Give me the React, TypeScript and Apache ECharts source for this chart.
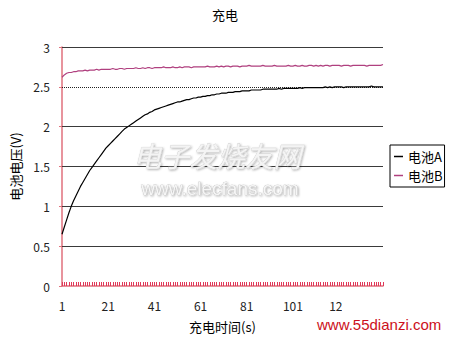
import React, { useEffect, useRef } from "react";
import * as echarts from "echarts";

const titleText = "充电";
const seriesNames = ["电池A", "电池B"];
const xAxisName = "充电时间(s)";
const yAxisName = "电池电压(V)";
const pointCount = 140;
const categories: string[] = Array.from({ length: pointCount }, (_, i) => String(i + 1));

const batteryA: number[] = [
  0.65, 0.74, 0.83, 0.92, 1.0, 1.07, 1.13, 1.19, 1.25, 1.3,
  1.35, 1.4, 1.45, 1.49, 1.53, 1.57, 1.61, 1.65, 1.69, 1.73,
  1.76, 1.79, 1.82, 1.85, 1.88, 1.91, 1.94, 1.97, 1.99, 2.01,
  2.03, 2.05, 2.07, 2.09, 2.11, 2.13, 2.15, 2.16, 2.18, 2.19,
  2.21, 2.22, 2.23, 2.24, 2.25, 2.26, 2.27, 2.28, 2.29, 2.3,
  2.31, 2.31, 2.32, 2.33, 2.34, 2.34, 2.35, 2.36, 2.36, 2.37,
  2.37, 2.38, 2.38, 2.39, 2.39, 2.4, 2.4, 2.41, 2.41, 2.42,
  2.42, 2.42, 2.43, 2.43, 2.43, 2.44, 2.44, 2.44, 2.45, 2.45,
  2.45, 2.45, 2.46, 2.46, 2.46, 2.46, 2.46, 2.47, 2.47, 2.47,
  2.47, 2.47, 2.47, 2.47, 2.48, 2.47, 2.48, 2.48, 2.48, 2.48,
  2.48, 2.48, 2.48, 2.49, 2.48, 2.49, 2.49, 2.49, 2.49, 2.49,
  2.49, 2.49, 2.49, 2.49, 2.5, 2.49, 2.5, 2.49, 2.5, 2.5,
  2.5, 2.5, 2.49, 2.5, 2.5, 2.5, 2.5, 2.5, 2.5, 2.5,
  2.5, 2.5, 2.5, 2.5, 2.51, 2.5, 2.5, 2.5, 2.5, 2.5,
];

const batteryB: number[] = [
  2.62, 2.65, 2.67, 2.68, 2.68, 2.69, 2.69, 2.7, 2.7, 2.7,
  2.71, 2.7, 2.71, 2.71, 2.71, 2.72, 2.71, 2.72, 2.72, 2.72,
  2.72, 2.72, 2.73, 2.72, 2.72, 2.73, 2.73, 2.72, 2.73, 2.73,
  2.73, 2.73, 2.74, 2.73, 2.73, 2.74, 2.73, 2.74, 2.74, 2.73,
  2.74, 2.74, 2.74, 2.74, 2.75, 2.74, 2.74, 2.74, 2.75, 2.74,
  2.74, 2.75, 2.74, 2.75, 2.75, 2.75, 2.74, 2.75, 2.75, 2.75,
  2.75, 2.75, 2.75, 2.76, 2.75, 2.75, 2.75, 2.76, 2.75, 2.76,
  2.75, 2.76, 2.76, 2.75, 2.76, 2.76, 2.76, 2.75, 2.76, 2.76,
  2.76, 2.77, 2.76, 2.76, 2.76, 2.76, 2.76, 2.77, 2.76, 2.76,
  2.76, 2.76, 2.77, 2.76, 2.76, 2.76, 2.76, 2.76, 2.77, 2.76,
  2.76, 2.77, 2.76, 2.76, 2.77, 2.76, 2.76, 2.77, 2.77, 2.76,
  2.77, 2.76, 2.77, 2.76, 2.77, 2.77, 2.76, 2.77, 2.77, 2.77,
  2.77, 2.76, 2.77, 2.77, 2.77, 2.76, 2.77, 2.77, 2.77, 2.77,
  2.77, 2.77, 2.76, 2.77, 2.77, 2.77, 2.77, 2.77, 2.77, 2.78,
];

const solidGridValues = [0.5, 1, 1.5, 2, 3];
const dottedGridValues = [2.5];

const FONT = "SimSun, 'Noto Sans CJK SC', sans-serif";

export default function App() {
  const ref = useRef<HTMLDivElement>(null);
  useEffect(() => {
    if (!ref.current) return;
    const chart = echarts.init(ref.current, null, { renderer: "svg" });
    const markData: any[] = [
      ...solidGridValues.map((v) => ({ yAxis: v, lineStyle: { type: "solid", color: "#3a3a3a", width: 1 } })),
      ...dottedGridValues.map((v) => ({ yAxis: v, lineStyle: { type: "dotted", color: "#222", width: 1 } })),
    ];
    chart.setOption({
      animation: false,
      backgroundColor: "#ffffff",
      title: {
        text: titleText,
        left: "center",
        top: 3,
        textStyle: { fontSize: 13, fontWeight: "normal", color: "#000", fontFamily: FONT },
      },
      legend: {
        orient: "vertical",
        left: 390,
        top: 145,
        borderColor: "#000",
        borderWidth: 1,
        padding: [5, 2, 5, 4],
        itemGap: 6,
        itemWidth: 9,
        itemHeight: 1.5,
        icon: "rect",
        textStyle: { fontSize: 13, color: "#000", fontFamily: FONT },
        data: seriesNames,
      },
      grid: { left: 62, right: 67, top: 47, bottom: 52 },
      xAxis: {
        type: "category",
        data: categories,
        boundaryGap: false,
        name: xAxisName,
        nameLocation: "middle",
        nameGap: 34,
        nameTextStyle: { fontSize: 13, color: "#000", fontFamily: FONT },
        axisLine: { lineStyle: { color: "#e0707c", width: 1.5 } },
        axisTick: { show: true, inside: true, length: 4, interval: 0, lineStyle: { color: "#e03858", width: 1 } },
        axisLabel: { interval: 19, fontSize: 12, color: "#222", margin: 13, fontFamily: FONT },
        splitLine: { show: false },
      },
      yAxis: {
        type: "value",
        min: 0,
        max: 3,
        interval: 0.5,
        name: yAxisName,
        nameLocation: "middle",
        nameGap: 40,
        nameTextStyle: { fontSize: 13, color: "#000", fontFamily: FONT },
        axisLine: { show: true, lineStyle: { color: "#e0707c", width: 1.5 } },
        axisTick: { show: true, length: 3, lineStyle: { color: "#e0707c" } },
        axisLabel: { fontSize: 12, color: "#222", margin: 12, fontFamily: FONT },
        splitLine: { show: false },
      },
      series: [
        {
          name: seriesNames[0],
          type: "line",
          data: batteryA,
          symbol: "none",
          lineStyle: { color: "#000", width: 1.2 },
          itemStyle: { color: "#000" },
          z: 3,
          markLine: {
            silent: true,
            symbol: "none",
            label: { show: false },
            data: markData,
            z: 1,
          },
        },
        {
          name: seriesNames[1],
          type: "line",
          data: batteryB,
          symbol: "none",
          lineStyle: { color: "#b0407f", width: 1.2 },
          itemStyle: { color: "#b0407f" },
          z: 3,
        },
      ],
      graphic: [
        {
          type: "text",
          left: 133,
          top: 141,
          z: 10,
          style: {
            text: "电子发烧友网",
            fontSize: 28,
            fontStyle: "italic",
            fontFamily: FONT,
            fill: "#f4f4f4",
            stroke: "#cccccc",
            lineWidth: 0.6,
            textShadowColor: "rgba(0,0,0,0.3)",
            textShadowBlur: 2,
            textShadowOffsetX: 1,
            textShadowOffsetY: 1,
          },
        },
        {
          type: "text",
          left: 141,
          top: 179,
          z: 10,
          style: {
            text: "www.elecfans.com",
            fontSize: 19,
            fontFamily: "Liberation Sans, Arial, sans-serif",
            fill: "#f6f6f6",
            stroke: "#b8b8b8",
            lineWidth: 0.6,
            textShadowColor: "rgba(0,0,0,0.3)",
            textShadowBlur: 2,
            textShadowOffsetX: 1,
            textShadowOffsetY: 1,
          },
        },
        {
          type: "rect",
          z: 20,
          shape: { x: 342, y: 296, width: 108, height: 42 },
          style: { fill: "#ffffff" },
        },
        {
          type: "text",
          left: 317,
          top: 317,
          z: 21,
          style: {
            text: "www.55dianzi.com",
            fontSize: 15,
            fontFamily: "Liberation Sans, Arial, sans-serif",
            fill: "#cc1020",
          },
        },
      ],
    });
    return () => chart.dispose();
  }, []);
  return (
    <div
      ref={ref}
      style={{ position: "fixed", left: 0, top: 0, width: 450, height: 338, background: "#fff" }}
    />
  );
}
